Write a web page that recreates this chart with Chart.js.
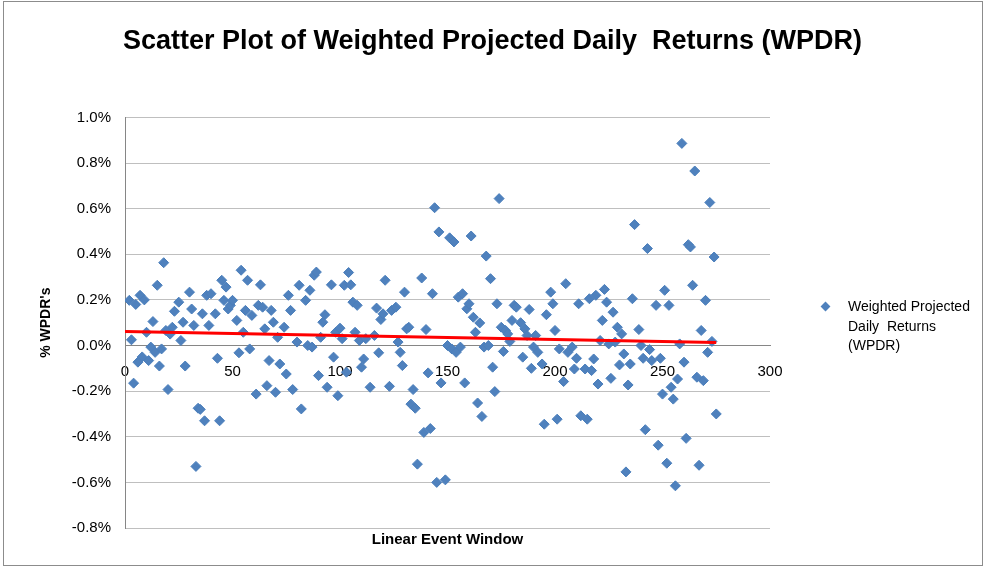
<!DOCTYPE html>
<html lang="en">
<head>
<meta charset="UTF-8">
<title>WPDR Scatter</title>
<script src="https://cdn.jsdelivr.net/npm/chart.js@4.4.1/dist/chart.umd.min.js"></script>
<style>
    body { margin: 0; background: #fff; }
    .wrap { position: relative; width: 985px; height: 568px; }
    .frame { position: absolute; left: 3px; top: 1px; width: 980px; height: 565px; border: 1px solid #8c8c8c; box-sizing: border-box; pointer-events: none; }
    .legend { position: absolute; left: 848px; top: 297px; font-family: "Liberation Sans", sans-serif; font-size: 14px; line-height: 19.5px; color: #000; white-space: pre; }
    .legend-mark { position: absolute; left: 822px; top: 303px; width: 7px; height: 7px; background: #4F81BD; transform: rotate(45deg); }
</style>
</head>
<body>
<div class="wrap">
    <canvas id="wpdrChart" width="985" height="568"></canvas>
    <div class="frame"></div>
    <div class="legend-mark"></div>
    <div class="legend">Weighted Projected
Daily  Returns
(WPDR)</div>
</div>
<script>
// event day in the window
const eventDay = [
    2, 3, 4, 5, 6, 7, 8, 9, 10, 11, 12, 13, 14, 15, 16, 17, 18, 19, 20, 21, 22, 23, 25, 26, 27, 28, 30,
    31, 32, 33, 34, 35, 36, 37, 38, 39, 40, 42, 43, 44, 45, 46, 47, 48, 49, 50, 52, 53, 54, 55, 56, 57,
    58, 59, 61, 62, 63, 64, 65, 66, 67, 68, 69, 70, 71, 72, 74, 75, 76, 77, 78, 80, 81, 82, 84, 85, 86,
    87, 88, 89, 90, 91, 92, 93, 94, 96, 97, 98, 99, 100, 101, 102, 103, 104, 105, 106, 107, 108, 109,
    110, 111, 112, 114, 116, 117, 118, 119, 120, 121, 123, 124, 126, 127, 128, 129, 130, 131, 132, 133,
    134, 135, 136, 138, 139, 140, 141, 142, 143, 144, 145, 146, 147, 149, 150, 151, 152, 153, 154, 155,
    156, 157, 158, 159, 160, 161, 162, 163, 164, 165, 166, 167, 168, 169, 170, 171, 172, 173, 174, 175,
    176, 177, 178, 179, 180, 181, 182, 184, 185, 186, 187, 188, 189, 190, 191, 192, 194, 195, 196, 198,
    199, 200, 201, 202, 204, 205, 206, 208, 209, 210, 211, 212, 214, 215, 216, 217, 218, 219, 220, 221,
    222, 223, 224, 225, 226, 227, 228, 229, 230, 231, 232, 233, 234, 235, 236, 237, 239, 240, 241, 242,
    243, 244, 245, 247, 248, 249, 250, 251, 252, 253, 254, 255, 256, 257, 258, 259, 260, 261, 262, 263,
    264, 265, 266, 267, 268, 269, 270, 271, 272, 273, 274, 275
];

// weighted projected daily return, in %
const wpdr = [
    0.198, 0.025, -0.165, 0.18, -0.073, 0.22, -0.05, 0.2, 0.058, -0.066, -0.007, 0.105, -0.03, 0.264,
    -0.09, -0.015, 0.363, 0.066, -0.193, 0.05, 0.08, 0.15, 0.19, 0.022, 0.102, -0.09, 0.234,
    0.16, 0.088, -0.53, -0.275, -0.28, 0.139, -0.33, 0.22, 0.088, 0.227, 0.139, -0.056, -0.33, 0.286,
    0.198, 0.256, 0.16, 0.176, 0.198, 0.11, -0.032, 0.33, 0.058, 0.154, 0.286,
    -0.015, 0.132, -0.213, 0.176, 0.266, 0.168, 0.073, -0.176, -0.066, 0.154, 0.102, -0.205, 0.036,
    -0.081, 0.08, -0.125, 0.22, 0.154, -0.193, 0.015, 0.264, -0.278, 0.198, 0.0, 0.242,
    -0.007, 0.308, 0.322, -0.132, 0.036, 0.102, 0.135, -0.183, 0.266, -0.051, 0.058, -0.22, 0.076,
    0.03, 0.264, -0.117, 0.32, 0.266, 0.19, 0.058, 0.176, 0.022,
    -0.095, -0.059, 0.03, -0.183, 0.044, 0.164, -0.032, 0.114, 0.139, 0.286, -0.179, 0.154, 0.168,
    0.015, -0.03, -0.088, 0.234, 0.073, 0.08, -0.257,
    -0.193, -0.275, -0.52, 0.296, -0.381, 0.07, -0.12, -0.364, 0.227, 0.604, -0.6, 0.498, -0.164,
    -0.589, 0.0, 0.472, -0.015, 0.454, -0.03, 0.212,
    -0.007, 0.227, -0.164, 0.161, 0.183, 0.48, 0.124, 0.058, -0.252, 0.099, -0.311, -0.007, 0.392,
    0.0, 0.293, -0.095, -0.202, 0.183, 0.644, 0.08,
    -0.026, 0.066, 0.051, 0.018, 0.11, 0.176, 0.168, 0.1, -0.051, 0.073, 0.044, 0.158, -0.1, -0.007,
    0.044, -0.03, -0.081, -0.345, 0.135, 0.234,
    0.183, 0.066, -0.323, -0.015, -0.158, 0.271, -0.03, -0.007, -0.103, -0.056, 0.183, -0.308, -0.103,
    -0.323, 0.205, -0.11, -0.059, 0.22, -0.169, 0.022,
    0.11, 0.246, 0.19, 0.007, -0.144, 0.146, 0.015, 0.08, -0.085, 0.051, -0.037, -0.554, -0.173,
    -0.081, 0.205, 0.53, 0.07, 0.0, -0.056, -0.369,
    0.425, -0.018, -0.066, 0.176, -0.437, -0.056, -0.213, 0.242, -0.516, 0.176, -0.183, -0.235,
    -0.615, -0.147, 0.007, 0.886, -0.073, -0.407, 0.442, 0.432,
    0.264, 0.765, -0.139, -0.525, 0.066, -0.154, 0.198, -0.03, 0.627, 0.018, 0.388, -0.3
];

const xTicks = { min: 0, max: 300, step: 50 };
const yTicks = { min: -0.8, max: 1.0, step: 0.2 };

const font = '"Liberation Sans", sans-serif';

// linear trend (least squares) like the Excel trendline
function trend(xs, ys) {
    const n = xs.length;
    let sx = 0, sy = 0, sxx = 0, sxy = 0;
    for (let i = 0; i < n; i++) {
        sx += xs[i]; sy += ys[i];
        sxx += xs[i] * xs[i]; sxy += xs[i] * ys[i];
    }
    const b = (n * sxy - sx * sy) / (n * sxx - sx * sx);
    const a = (sy - b * sx) / n;
    return x => a + b * x;
}

const points = eventDay.map((d, i) => ({ x: d, y: wpdr[i] }));
const fit = trend(eventDay, wpdr);
const lastDay = eventDay[eventDay.length - 1];
const trendPoints = [{ x: 0, y: fit(0) }, { x: lastDay, y: fit(lastDay) }];

new Chart(document.getElementById('wpdrChart'), {
    type: 'scatter',
    data: {
        datasets: [
            {
                label: 'Weighted Projected Daily  Returns (WPDR)',
                data: points,
                pointStyle: 'rectRot',
                pointRadius: 5,
                backgroundColor: '#4F81BD',
                borderColor: '#4A7EBB',
                borderWidth: 1,
                order: 1
            },
            {
                type: 'line',
                label: 'Linear trend',
                data: trendPoints,
                borderColor: '#FF0000',
                borderWidth: 3,
                pointRadius: 0,
                fill: false,
                order: 0
            }
        ]
    },
    options: {
        responsive: false,
        animation: false,
        layout: { padding: 0 },
        plugins: {
            legend: { display: false },
            tooltip: { enabled: false },
            title: {
                display: true,
                text: 'Scatter Plot of Weighted Projected Daily  Returns (WPDR)',
                color: '#000',
                font: { family: font, size: 27, weight: 'bold' },
                padding: { top: 25, bottom: 60 }
            },
            subtitle: {
                display: true,
                position: 'bottom',
                fullSize: false,
                text: 'Linear Event Window',
                color: '#000',
                font: { family: font, size: 15, weight: 'bold' },
                padding: { top: 3, bottom: 19 }
            }
        },
        scales: {
            x: {
                type: 'linear',
                position: { y: 0 },
                min: xTicks.min,
                max: xTicks.max,
                ticks: { stepSize: xTicks.step, color: '#000', padding: 17, font: { family: font, size: 15 } },
                grid: { display: false, drawTicks: false },
                border: { color: '#868686' }
            },
            y: {
                min: yTicks.min,
                max: yTicks.max,
                ticks: {
                    stepSize: yTicks.step,
                    color: '#000',
                    padding: 14,
                    font: { family: font, size: 15 },
                    callback: v => (Math.abs(v) < 1e-9 ? 0 : v).toFixed(1) + '%'
                },
                grid: { color: '#BFBFBF', drawTicks: false },
                border: { color: '#868686' },
                title: {
                    display: true,
                    text: "% WPDR's",
                    color: '#000',
                    font: { family: font, size: 14, weight: 'bold' },
                    padding: { top: 38, bottom: 0 }
                },
                afterFit: s => { s.width = 125; }
            },
            // empty axis that only keeps the right-hand room for the legend
            yRoom: {
                position: 'right',
                display: true,
                ticks: { display: false },
                grid: { display: false },
                border: { display: false },
                afterFit: s => { s.width = 215; }
            }
        }
    }
});
</script>
</body>
</html>
